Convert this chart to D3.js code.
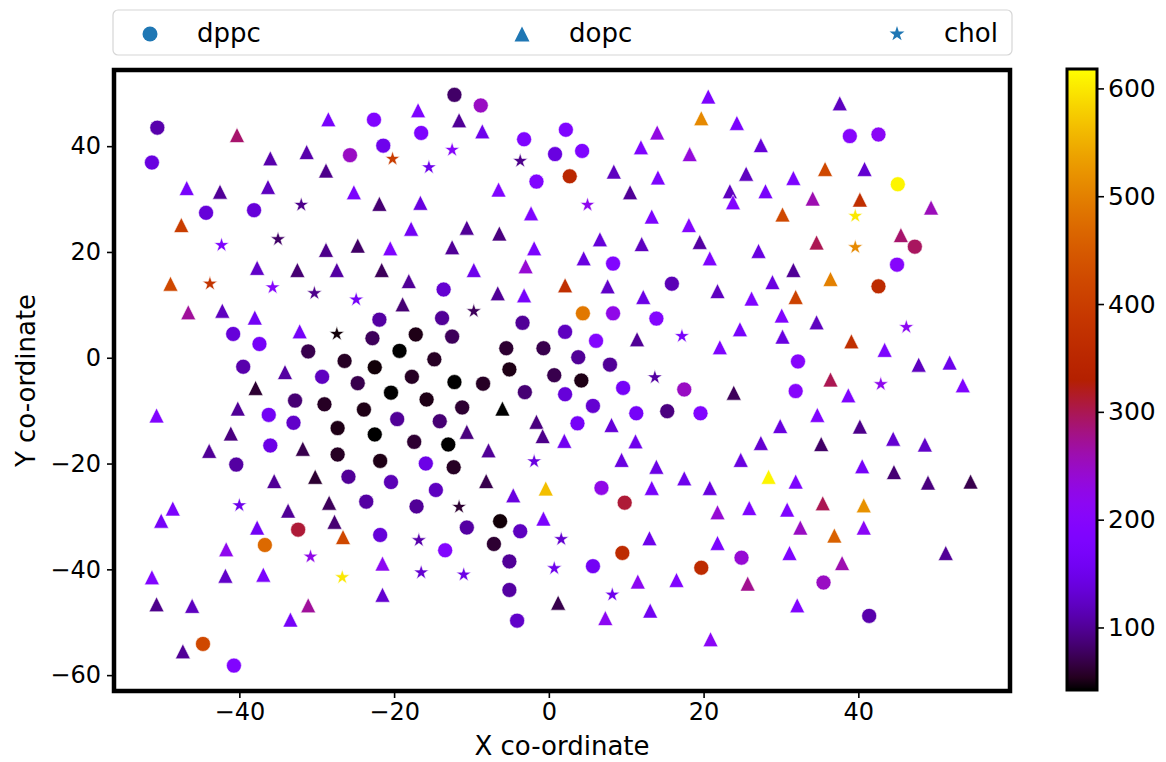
<!DOCTYPE html>
<html>
<head>
<meta charset="utf-8">
<script src="https://cdn.jsdelivr.net/npm/d3@7"></script>
<style>
  body { margin: 0; background: #fff; }
  svg { font-family: "DejaVu Sans", sans-serif; }
</style>
</head>
<body>
<svg id="chart" width="1166" height="762"></svg>
<script>
// Lipid positions: [x, y, value] for each molecule type
const dppc = [
  [-50.6, 43.5, 110], [-51.3, 36.9, 140], [-44.3, 27.4, 135], [-38.1, 27.9, 135],
  [-12.2, 49.7, 80], [-8.8, 47.7, 250], [-22.6, 45.0, 190], [-16.5, 42.5, 180],
  [-3.2, 41.3, 185], [2.2, 43.1, 185], [-21.4, 40.1, 150], [-25.7, 38.3, 250],
  [0.8, 38.5, 140], [-1.6, 33.3, 190], [2.7, 34.3, 350], [4.3, 39.1, 185],
  [8.3, 17.8, 190], [38.9, 41.9, 200], [42.6, 42.2, 210], [45.1, 32.8, 610],
  [47.3, 21.0, 295], [45.0, 17.6, 200],
  [-40.8, 4.5, 135], [-37.4, 2.6, 165], [-31.1, 1.2, 70], [-39.5, -1.7, 110],
  [-29.3, -3.6, 120], [-32.8, -8.1, 85], [-29.0, -8.8, 55], [-36.2, -10.8, 160],
  [-33.0, -12.3, 125], [-27.3, -13.3, 50], [-36.0, -16.6, 145], [-27.3, -18.3, 55],
  [-40.4, -20.2, 105],
  [-13.6, 12.9, 130], [-21.9, 7.2, 105], [-13.8, 7.5, 100], [-3.4, 6.6, 100],
  [2.1, 4.9, 120], [-22.8, 3.7, 75], [-17.2, 4.4, 50], [-12.5, 4.0, 75],
  [-19.3, 1.3, 42], [-5.5, 1.8, 60], [-0.7, 1.8, 70], [-26.4, -0.6, 55],
  [-22.5, -1.8, 45], [-14.8, -0.3, 55], [-5.1, -2.2, 50], [0.7, -3.3, 70],
  [-24.7, -4.8, 70], [-17.7, -3.6, 55], [-12.2, -4.6, 42], [-8.5, -4.9, 55],
  [-20.4, -6.6, 42], [-3.1, -6.5, 85], [2.1, -6.9, 135], [-15.8, -7.9, 50],
  [-23.9, -9.8, 50], [-11.2, -9.4, 60], [-19.6, -11.6, 100], [-14.1, -12.0, 85],
  [-22.5, -14.5, 42], [-17.4, -15.9, 60], [-13.0, -16.4, 40], [-21.8, -19.5, 50],
  [-15.9, -20.0, 145], [-12.3, -20.7, 55], [-25.9, -22.5, 100], [-20.4, -23.5, 115],
  [-14.6, -25.0, 120],
  [15.9, 14.0, 115], [4.4, 8.4, 490], [8.3, 8.4, 225], [13.9, 7.4, 195],
  [6.1, 3.2, 195], [3.8, 0.1, 100], [7.9, -1.3, 100], [4.2, -4.3, 50],
  [9.6, -5.7, 165], [17.5, -6.0, 250], [31.9, -6.3, 200], [5.7, -9.1, 130],
  [11.3, -10.5, 165], [15.3, -10.1, 90], [19.6, -10.5, 190], [3.7, -12.4, 165],
  [42.6, 13.5, 360], [32.2, -0.7, 200], [35.5, -42.5, 250], [41.4, -48.8, 110],
  [-32.4, -32.5, 310], [-36.7, -35.4, 470], [-44.7, -54.1, 420], [-40.7, -58.2, 190],
  [-23.6, -27.2, 105], [-17.1, -28.1, 100], [-6.3, -30.9, 45], [-10.6, -32.1, 105],
  [-3.7, -32.8, 120], [-21.8, -33.5, 135], [-7.1, -35.2, 60], [-13.4, -36.4, 195],
  [-5.1, -38.5, 100], [-5.1, -43.9, 105], [-4.1, -49.7, 125],
  [6.8, -24.6, 225], [9.8, -27.4, 310], [9.5, -36.9, 360], [5.7, -39.4, 160],
  [19.7, -39.7, 360], [24.9, -37.8, 240]
];

const dopc = [
  [-40.3, 42.1, 290], [-28.5, 45.1, 170], [-36.0, 37.7, 110], [-31.3, 38.9, 110],
  [-28.8, 35.4, 95], [-46.8, 32.1, 170], [-42.5, 31.4, 100], [-36.3, 32.3, 120],
  [-47.5, 25.1, 400], [-28.8, 20.4, 95], [-37.7, 17.0, 125], [-32.5, 16.6, 85],
  [-27.4, 16.6, 105],
  [-16.9, 46.8, 185], [-11.6, 44.9, 100], [-8.6, 42.8, 150], [-25.2, 31.3, 175],
  [-6.5, 31.8, 190], [-21.9, 29.1, 85], [-16.6, 29.3, 140], [-2.3, 27.3, 185],
  [-17.8, 24.4, 160], [-10.6, 24.6, 100], [-6.4, 23.5, 90], [-24.7, 21.2, 80],
  [-20.5, 20.7, 185], [-12.5, 20.9, 100], [-1.9, 20.7, 175], [-3.0, 17.3, 240],
  [-21.6, 16.6, 75], [-9.7, 16.6, 150],
  [20.6, 49.4, 180], [19.7, 45.3, 510], [24.3, 44.4, 175], [14.0, 42.6, 230],
  [27.4, 40.2, 135], [11.9, 39.8, 185], [18.2, 38.5, 235], [8.4, 35.2, 120],
  [14.1, 34.1, 180], [25.5, 34.8, 120], [10.5, 31.3, 100], [23.4, 31.5, 120],
  [23.8, 29.4, 190], [28.0, 31.5, 170], [31.6, 34.0, 180], [30.2, 27.1, 420],
  [13.3, 26.7, 180], [18.1, 25.1, 195], [6.6, 22.4, 135], [12.0, 21.5, 120],
  [19.5, 21.9, 105], [27.1, 20.2, 140], [4.5, 18.8, 140], [20.8, 18.8, 185],
  [37.6, 48.1, 120], [35.7, 35.7, 420], [40.8, 35.7, 130], [34.1, 30.1, 260],
  [40.2, 29.9, 370], [49.4, 28.4, 255], [34.6, 21.8, 300], [45.5, 23.2, 290],
  [31.6, 16.6, 100], [36.4, 14.9, 500],
  [-48.9, 14.0, 420], [-46.6, 8.6, 270], [-42.2, 8.9, 120], [-38.0, 7.6, 160],
  [-32.2, 5.0, 165], [-34.1, -2.7, 105], [-37.9, -5.7, 60], [-50.7, -10.9, 190],
  [-40.2, -9.6, 100], [-41.1, -14.3, 90], [-43.9, -17.6, 100], [-31.8, -17.2, 70],
  [-35.5, -23.3, 100], [-30.2, -22.5, 60],
  [-18.1, 14.5, 100], [-6.6, 12.2, 100], [-3.2, 11.8, 170], [2.1, 13.7, 370],
  [-18.9, 10.1, 85], [-6.0, -9.6, 40], [-1.6, -12.1, 90], [-0.8, -14.8, 95],
  [2.0, -15.7, 155], [-10.6, -14.0, 90], [-7.8, -17.5, 100], [-8.1, -23.3, 70],
  [-0.4, -24.7, 565],
  [7.6, 13.5, 125], [21.8, 12.6, 120], [28.9, 14.3, 140], [12.2, 11.5, 145],
  [26.2, 11.2, 185], [31.9, 11.5, 410], [30.1, 8.0, 190], [11.4, 3.5, 100],
  [24.7, 5.4, 170], [22.1, 2.0, 185], [30.2, 4.0, 140], [23.9, -6.6, 75],
  [8.1, -12.7, 135], [29.9, -12.9, 140], [11.2, -15.8, 150], [27.4, -16.1, 130],
  [9.4, -19.3, 140], [13.9, -20.6, 145], [24.8, -19.3, 140], [17.5, -22.8, 150],
  [28.4, -22.5, 610], [13.3, -24.6, 170], [20.8, -24.6, 140],
  [34.6, 6.7, 120], [39.1, 3.1, 370], [43.4, 1.5, 180], [47.8, -1.3, 120],
  [51.8, -0.9, 150], [36.4, -4.1, 300], [38.7, -7.1, 185], [53.5, -5.2, 185],
  [34.7, -10.8, 190], [40.2, -13.0, 95], [35.2, -16.3, 80], [44.5, -15.3, 130],
  [48.6, -16.4, 125], [40.5, -20.5, 165], [44.6, -21.6, 85], [31.9, -23.4, 180],
  [49.0, -23.6, 90], [54.5, -23.4, 70],
  [35.4, -27.5, 300], [40.7, -27.9, 520], [30.8, -28.7, 185], [32.5, -32.1, 250],
  [40.7, -32.1, 210], [36.9, -33.6, 460], [31.1, -36.9, 185], [37.9, -38.8, 260],
  [51.3, -36.9, 100], [32.1, -46.8, 190],
  [-48.6, -28.5, 175], [-50.1, -30.8, 165], [-33.7, -28.9, 100], [-28.4, -27.4, 75],
  [-27.7, -31.0, 85], [-37.7, -32.1, 160], [-26.6, -33.9, 420], [-41.7, -36.2, 220],
  [-51.3, -41.5, 190], [-41.8, -41.2, 125], [-36.9, -41.0, 175], [-50.7, -46.6, 95],
  [-46.1, -46.9, 120], [-31.1, -46.8, 270], [-33.4, -49.5, 165], [-47.3, -55.5, 100],
  [-4.6, -26.0, 140], [-0.7, -30.4, 175], [-21.5, -38.9, 215], [-21.5, -44.8, 130],
  [1.2, -46.3, 70],
  [21.8, -29.2, 240], [25.9, -28.4, 185], [13.0, -34.1, 150], [21.8, -35.0, 180],
  [11.5, -42.3, 215], [16.5, -42.0, 190], [25.7, -42.7, 275], [7.3, -49.2, 215],
  [13.1, -47.8, 155], [20.9, -53.2, 210]
];

const chol = [
  [-32.0, 28.9, 95], [-42.3, 21.3, 180], [-35.0, 22.4, 80], [-20.2, 37.6, 400],
  [-12.5, 39.3, 200], [-15.5, 36.0, 150], [-3.7, 37.2, 95], [5.0, 28.9, 220],
  [39.6, 26.8, 600], [39.6, 20.9, 510], [-43.8, 14.0, 380], [-35.7, 13.3, 200],
  [-30.3, 12.2, 95], [-27.4, 4.5, 45], [-24.9, 11.0, 165], [-9.7, 8.8, 75],
  [-1.9, -19.6, 140], [17.2, 4.1, 170], [13.7, -3.7, 105], [46.2, 5.8, 215],
  [42.9, -5.0, 220], [-40.0, -27.9, 150], [-30.8, -37.6, 225], [-26.7, -41.5, 600],
  [-11.6, -28.2, 60], [-16.8, -34.5, 110], [1.6, -34.3, 130], [-16.5, -40.6, 130],
  [-11.0, -41.0, 145], [0.7, -39.8, 150], [8.2, -44.8, 150]
];

const seriesNames = ["dppc", "dopc", "chol"];
const xTicks = [-40, -20, 0, 20, 40];
const yTicks = [-60, -40, -20, 0, 20, 40];
const colorTicks = [100, 200, 300, 400, 500, 600];
const xDomain = [-56.2, 59.6];
const yDomain = [-63, 54.4];
const valueDomain = [42, 618];

// gnuplot colormap: r = sqrt(t), g = t^3, b = sin(2*pi*t)
function gnuplot(t) {
  t = Math.max(0, Math.min(1, t));
  const r = Math.sqrt(t);
  const g = t * t * t;
  const b = Math.max(0, Math.min(1, Math.sin(2 * Math.PI * t)));
  return d3.rgb(255 * r, 255 * g, 255 * b).formatHex();
}
const color = d3.scaleSequential(gnuplot).domain(valueDomain).clamp(true);

// marker shapes sized like the scatter markers
const markerSize = 15;
function circlePath(s) {
  const r = s / 2;
  return `M${r},0A${r},${r},0,1,1,${-r},0A${r},${r},0,1,1,${r},0Z`;
}
function trianglePath(s) {
  const h = s / 2;
  return `M0,${-h}L${h},${h}L${-h},${h}Z`;
}
function starPath(s) {
  const R = s / 2 * 1.05, r = R * 0.381966;
  const pts = [];
  for (let i = 0; i < 10; i++) {
    const a = -Math.PI / 2 + i * Math.PI / 5;
    const rad = i % 2 === 0 ? R : r;
    pts.push([rad * Math.cos(a), rad * Math.sin(a)]);
  }
  return "M" + pts.map(p => p[0].toFixed(2) + "," + p[1].toFixed(2)).join("L") + "Z";
}
const shapes = { dppc: circlePath, dopc: trianglePath, chol: starPath };
const seriesData = { dppc, dopc, chol };

const svg = d3.select("#chart");

const plot = { left: 114, right: 1010, top: 70, bottom: 691 };
const x = d3.scaleLinear().domain(xDomain).range([plot.left, plot.right]);
const y = d3.scaleLinear().domain(yDomain).range([plot.bottom, plot.top]);

const fmt = d => (d < 0 ? "\u2212" + Math.abs(d) : String(d));

// points
seriesNames.forEach(name => {
  const pathStr = shapes[name](markerSize);
  svg.append("g")
    .selectAll("path")
    .data(seriesData[name])
    .join("path")
    .attr("d", pathStr)
    .attr("transform", d => `translate(${x(d[0])},${y(d[1])})`)
    .attr("fill", d => color(d[2]))
    .attr("stroke", "#ffffff")
    .attr("stroke-width", 0.6);
});

// axes
const xAxis = svg.append("g")
  .attr("transform", `translate(0,${plot.bottom})`)
  .call(d3.axisBottom(x).tickValues(xTicks).tickFormat(fmt).tickSize(7).tickPadding(5));
const yAxis = svg.append("g")
  .attr("transform", `translate(${plot.left},0)`)
  .call(d3.axisLeft(y).tickValues(yTicks).tickFormat(fmt).tickSize(7).tickPadding(6));
[xAxis, yAxis].forEach(g => {
  g.select(".domain").remove();
  g.selectAll(".tick line").attr("stroke", "#000").attr("stroke-width", 1.6);
  g.selectAll(".tick text")
    .attr("fill", "#000")
    .style("font-family", '"DejaVu Sans", sans-serif')
    .style("font-size", "24px");
});

// frame
svg.append("rect")
  .attr("x", plot.left).attr("y", plot.top)
  .attr("width", plot.right - plot.left).attr("height", plot.bottom - plot.top)
  .attr("fill", "none").attr("stroke", "#000").attr("stroke-width", 4.5);

// axis titles
svg.append("text")
  .attr("x", (plot.left + plot.right) / 2).attr("y", 755)
  .attr("text-anchor", "middle")
  .style("font-size", "26px")
  .text("X co-ordinate");
svg.append("text")
  .attr("transform", `translate(35,${(plot.top + plot.bottom) / 2}) rotate(-90)`)
  .attr("text-anchor", "middle")
  .style("font-size", "26px")
  .text("Y co-ordinate");

// colour bar
const cb = { x: 1067, w: 30, top: 69, bottom: 690 };
const cy = d3.scaleLinear().domain(valueDomain).range([cb.bottom, cb.top]);
const defs = svg.append("defs");
const grad = defs.append("linearGradient")
  .attr("id", "cbar-grad")
  .attr("x1", 0).attr("y1", 1).attr("x2", 0).attr("y2", 0);
d3.range(0, 1.0001, 0.02).forEach(t => {
  grad.append("stop")
    .attr("offset", t)
    .attr("stop-color", color(valueDomain[0] + t * (valueDomain[1] - valueDomain[0])));
});
svg.append("rect")
  .attr("x", cb.x).attr("y", cb.top)
  .attr("width", cb.w).attr("height", cb.bottom - cb.top)
  .attr("fill", "url(#cbar-grad)")
  .attr("stroke", "#000").attr("stroke-width", 3);
const cAxis = svg.append("g")
  .attr("transform", `translate(${cb.x + cb.w},0)`)
  .call(d3.axisRight(cy).tickValues(colorTicks).tickSize(7).tickPadding(4));
cAxis.select(".domain").remove();
cAxis.selectAll(".tick line").attr("stroke", "#000").attr("stroke-width", 1.6);
cAxis.selectAll(".tick text")
  .attr("fill", "#000")
  .style("font-family", '"DejaVu Sans", sans-serif')
  .style("font-size", "25px");

// legend
const legend = svg.append("g");
legend.append("rect")
  .attr("x", 113).attr("y", 10).attr("width", 899).attr("height", 45)
  .attr("rx", 5).attr("fill", "#fff").attr("stroke", "#d6d6d6").attr("stroke-width", 1.2);
const legendX = [150, 522, 897];
seriesNames.forEach((name, i) => {
  legend.append("path")
    .attr("d", shapes[name](markerSize))
    .attr("transform", `translate(${legendX[i]},34)`)
    .attr("fill", "#1f77b4");
  legend.append("text")
    .attr("x", legendX[i] + 47).attr("y", 42)
    .style("font-size", "26px")
    .text(name);
});
</script>
</body>
</html>
